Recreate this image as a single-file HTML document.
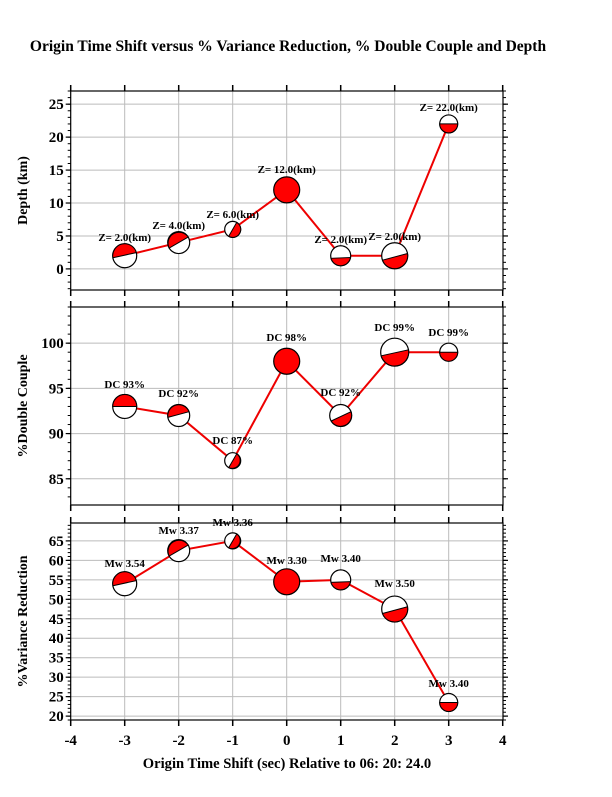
<!DOCTYPE html>
<html><head><meta charset="utf-8"><style>
body{margin:0;background:#fff}
svg text{font-family:"Liberation Serif",serif;font-weight:bold;fill:#000}
</style></head><body>
<svg id="s" width="612" height="792" viewBox="0 0 612 792" xmlns="http://www.w3.org/2000/svg"></svg>
<script>
const s=document.getElementById('s');let h='';
const X=v=>286.7+v*54;
h+=`<text x="288" y="51" font-size="15.5" text-anchor="middle">Origin Time Shift versus % Variance Reduction, % Double Couple and Depth</text>`;
const panels=[
 {t:91,b:290,vt:27,vb:-3.2,ticks:[0,5,10,15,20,25],minor:1,lab:"Depth (km)",
  pts:[[-3,2,12,170,345,"Z= 2.0(km)",241],[-2,4,11,150,330,"Z= 4.0(km)",229],[-1,6,8,-60,120,"Z= 6.0(km)",218],[0,12,13,0,0,"Z= 12.0(km)",173],[1,2,10,10,165,"Z= 2.0(km)",243],[2,2,13,-10,160,"Z= 2.0(km)",240],[3,22,9,0,180,"Z= 22.0(km)",111]]},
 {t:307,b:505,vt:104,vb:82.1,ticks:[85,90,95,100],minor:1,lab:"%Double Couple",
  pts:[[-3,93,12,180,360,"DC 93%",388],[-2,92,11,170,340,"DC 92%",397],[-1,87,8,-60,120,"DC 87%",444],[0,98,13,0,0,"DC 98%",341],[1,92,11,-20,150,"DC 92%",396],[2,99,14,-10,165,"DC 99%",331],[3,99,9,0,180,"DC 99%",336]]},
 {t:523,b:720,vt:69.6,vb:19,ticks:[20,25,30,35,40,45,50,55,60,65],minor:1,lab:"%Variance Reduction",
  pts:[[-3,54,12,170,345,"Mw 3.54",567],[-2,62.5,11,150,330,"Mw 3.37",534],[-1,65,8,-60,120,"Mw 3.36",526],[0,54.5,13,0,0,"Mw 3.30",564],[1,55,10,10,165,"Mw 3.40",562],[2,47.5,13,-10,160,"Mw 3.50",587],[3,23.5,9,0,180,"Mw 3.40",687]]}
];
const L=70.7,R=503;
function P(cx,cy,r,a){a=a*Math.PI/180;return (cx+r*Math.cos(a)).toFixed(1)+' '+(cy+r*Math.sin(a)).toFixed(1);}
panels.forEach(p=>{
 const Y=v=>p.t+(p.vt-v)/(p.vt-p.vb)*(p.b-p.t);
 for(let v=-3;v<=3;v++)h+=`<line x1="${X(v)}" y1="${p.t}" x2="${X(v)}" y2="${p.b}" stroke="#bbb" stroke-width="1"/>`;
 p.ticks.forEach(v=>{const y=Y(v);h+=`<line x1="${L}" y1="${y}" x2="${R}" y2="${y}" stroke="#bbb"/>`;
  h+=`<line x1="${L-5}" y1="${y}" x2="${L}" y2="${y}" stroke="#000" stroke-width="1.2"/><line x1="${R}" y1="${y}" x2="${R+5}" y2="${y}" stroke="#000" stroke-width="1.2"/>`;
  h+=`<text x="${L-7}" y="${y+5}" font-size="15" text-anchor="end">${v}</text>`;});
 for(let v=Math.ceil(p.vb);v<=p.vt;v++){const y=Y(v);h+=`<line x1="${L-3}" y1="${y}" x2="${L}" y2="${y}" stroke="#000"/><line x1="${R}" y1="${y}" x2="${R+3}" y2="${y}" stroke="#000"/>`;}
 for(let v=-4;v<=4;v++){h+=`<line x1="${X(v)}" y1="${p.t-6}" x2="${X(v)}" y2="${p.t}" stroke="#000" stroke-width="1.5"/><line x1="${X(v)}" y1="${p.b}" x2="${X(v)}" y2="${p.b+6}" stroke="#000" stroke-width="1.5"/>`;}
 h+=`<rect x="${L}" y="${p.t}" width="${R-L}" height="${p.b-p.t}" fill="none" stroke="#000" stroke-width="1.2"/>`;
 const cy=(p.t+p.b)/2;
 h+=`<text transform="translate(27 ${cy}) rotate(-90)" font-size="14" text-anchor="middle">${p.lab}</text>`;
 h+=`<polyline fill="none" stroke="#e00" stroke-width="2" points="${p.pts.map(q=>X(q[0])+','+Y(q[1])).join(' ')}"/>`;
 p.pts.forEach(q=>{const x=X(q[0]),y=Y(q[1]),r=q[2];
  if(q[3]==q[4]){h+=`<circle cx="${x}" cy="${y}" r="${r}" fill="#f00" stroke="#000" stroke-width="1.2"/>`;}
  else{let d=((q[4]-q[3])%360+360)%360;h+=`<circle cx="${x}" cy="${y}" r="${r}" fill="#fff" stroke="#000" stroke-width="1.2"/><path d="M${P(x,y,r,q[3])} A${r} ${r} 0 ${d>180?1:0} 1 ${P(x,y,r,q[4])} Z" fill="#f00" stroke="#000" stroke-width="1"/>`;}
  h+=`<text x="${x}" y="${q[6]}" font-size="11" text-anchor="middle">${q[5]}</text>`;});
});
for(let v=-4;v<=4;v++)h+=`<text x="${X(v)}" y="745" font-size="15" text-anchor="middle">${v}</text>`;
h+=`<text x="287" y="768" font-size="14.6" text-anchor="middle">Origin Time Shift (sec) Relative to 06: 20: 24.0</text>`;
s.innerHTML=h;
</script>
</body></html>
